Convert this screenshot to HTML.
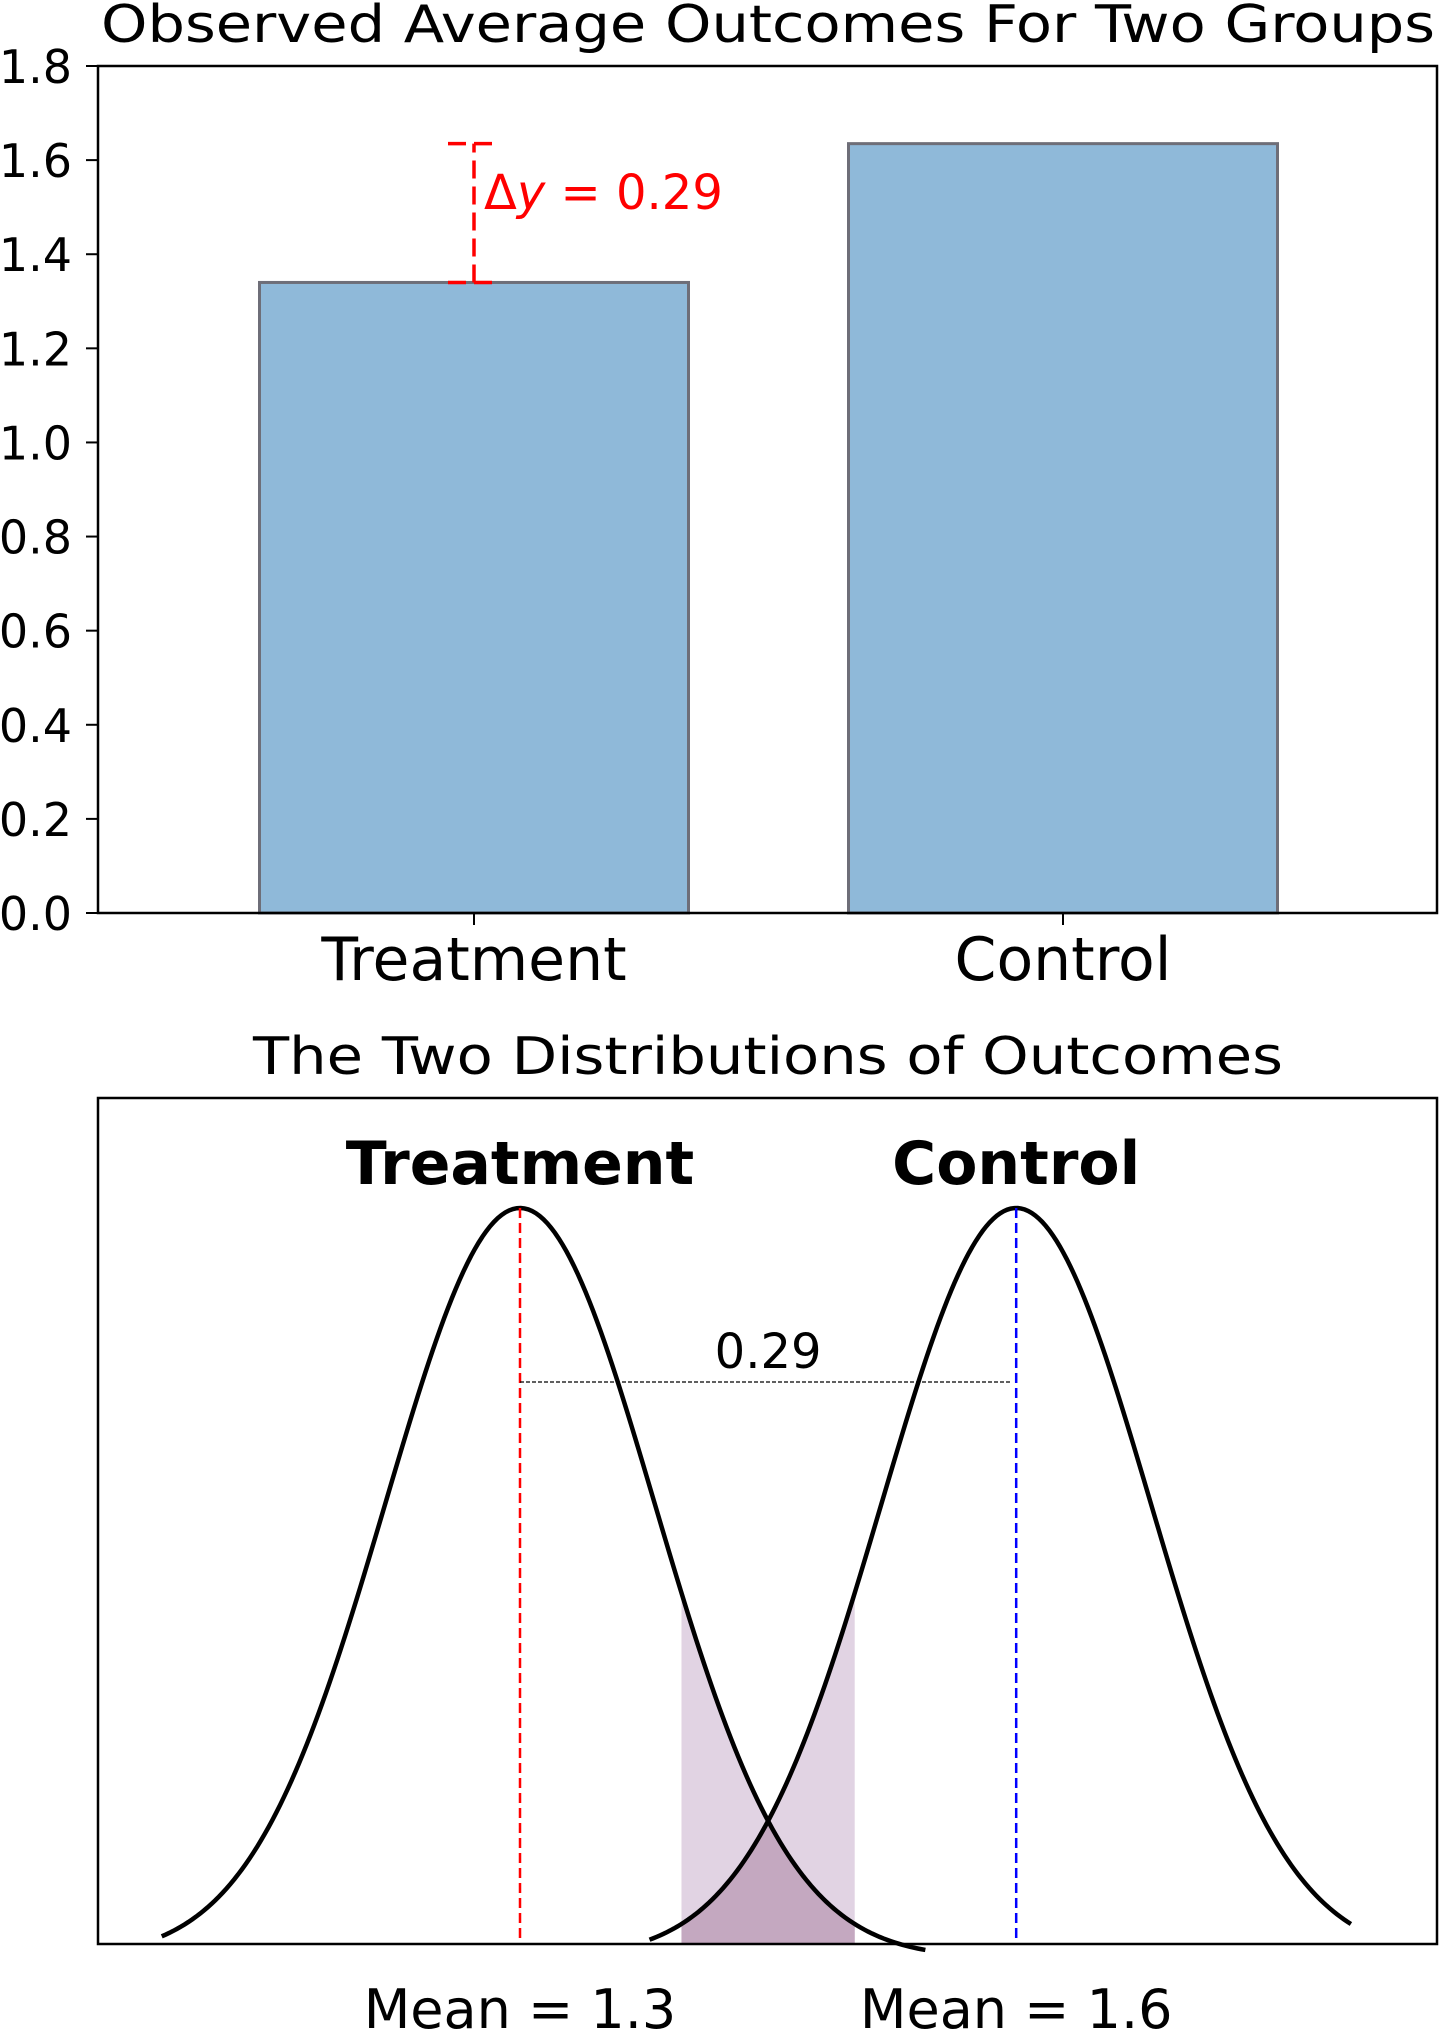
<!DOCTYPE html>
<html><head><meta charset="utf-8"><style>
html,body{margin:0;padding:0;background:#fff;}
svg{display:block;font-family:"DejaVu Sans","Liberation Sans",sans-serif;}
</style></head><body>
<svg id="chart" width="1440" height="2030" viewBox="0 0 1440 2030" xmlns="http://www.w3.org/2000/svg">
<text x="768" y="42" font-size="52" text-anchor="middle" textLength="1334" lengthAdjust="spacingAndGlyphs">Observed Average Outcomes For Two Groups</text>
<g id="topchart"></g>
<text x="768" y="1074" font-size="52" text-anchor="middle" textLength="1030" lengthAdjust="spacingAndGlyphs">The Two Distributions of Outcomes</text>
<g id="botchart"></g>
</svg>
<script>
const categories = ["Treatment", "Control"];
const barValues = [1.34, 1.635];
const yTicks = [0, 0.2, 0.4, 0.6, 0.8, 1.0, 1.2, 1.4, 1.6, 1.8];
const yTickLabels = ["0.0","0.2","0.4","0.6","0.8","1.0","1.2","1.4","1.6","1.8"];
const deltaLabel = "0.29";
const means = [1.34, 1.635];
const sigmas = [0.08, 0.08];
const curveStart = [1.127, 1.417];
const curveEnd = [1.581, 1.834];
const shadeRange = [1.436, 1.539];
const meanLabels = ["Mean = 1.3", "Mean = 1.6"];

const NS = "http://www.w3.org/2000/svg";
function mk(parent, tag, attrs, text){
  const e = document.createElementNS(NS, tag);
  for (const k in attrs) e.setAttribute(k, attrs[k]);
  if (text !== undefined) e.textContent = text;
  parent.appendChild(e);
  return e;
}
// ---- top chart ----
const topG = document.getElementById('topchart');
const L = 98, R = 1437, T = 66, B = 913;
const yS = v => B - (v / 1.8) * (B - T);
const xCenters = [474, 1063];
const barW = 429;
yTicks.forEach((t, i) => {
  const y = yS(t);
  const tk = mk(topG, 'line', {x1: L - 12, x2: L, y1: y, y2: y, stroke: '#000', 'stroke-width': 2});
  
  
  const lb = mk(topG, 'text', {x: L - 26, y: y + 17, 'font-size': 46, 'text-anchor': 'end'}, yTickLabels[i]);
  
  
});
barValues.forEach((v, i) => {
  const r = mk(topG, 'rect', {x: xCenters[i] - barW / 2, y: yS(v), width: barW, height: B - yS(v), fill: '#8fb9d9', stroke: '#6e6e78', 'stroke-width': 3});
  
  
  const tk = mk(topG, 'line', {x1: xCenters[i], x2: xCenters[i], y1: B, y2: B + 12, stroke: '#000', 'stroke-width': 2});
  
  
  const lb = mk(topG, 'text', {x: xCenters[i], y: 980, 'font-size': 60, 'text-anchor': 'middle'}, categories[i]);
  
  
});
const frame = mk(topG, 'rect', {x: L, y: T, width: R - L, height: B - T, fill: 'none', stroke: '#000', 'stroke-width': 2.5});


const dx = xCenters[0];
const y1 = yS(barValues[0]), y2 = yS(barValues[1]);
const dl = mk(topG, 'line', {x1: dx, x2: dx, y1: y1, y2: y2, stroke: '#ff0000', 'stroke-width': 3.5, 'stroke-dasharray': '18 8'});


[y1, y2].forEach(y => {
  const c = mk(topG, 'line', {x1: dx - 26, x2: dx + 22, y1: y, y2: y, stroke: '#ff0000', 'stroke-width': 3.5, 'stroke-dasharray': '18 8'});
  
  
});
const dt = mk(topG, 'text', {x: dx + 10, y: (y1 + y2) / 2 - 4, 'font-size': 48, fill: '#ff0000'});


mk(dt, 'tspan', {}, 'Δ');
mk(dt, 'tspan', {'font-style': 'italic'}, 'y');
mk(dt, 'tspan', {}, ' = ' + deltaLabel);

// ---- bottom chart ----
const botG = document.getElementById('botchart');
const BL = 98, BR = 1437, BT = 1098, BB = 1944;
const xD = v => 520 + (v - 1.34) * 1682;
const peakPdf = 1 / (0.08 * Math.sqrt(2 * Math.PI));
const yD = p => 1958 - p * 750 / peakPdf;
const pdf = (v, m, s) => Math.exp(-((v - m) ** 2) / (2 * s * s)) / (s * Math.sqrt(2 * Math.PI));
function pts(a, b, f){ const out = []; for (let k = 0; k <= 200; k++){ const v = a + (b - a) * k / 200; out.push([xD(v), f(v)]); } return out; }
const clip = mk(botG, 'clipPath', {id: 'bclip'});
mk(clip, 'rect', {x: BL, y: BT, width: BR - BL, height: BB - BT});
const fillG = mk(botG, 'g', {'clip-path': 'url(#bclip)'});


function area(f, col, name){
  const p = pts(shadeRange[0], shadeRange[1], f);
  const d = 'M' + p[0][0] + ',' + BB + ' ' + p.map(q => 'L' + q[0] + ',' + q[1]).join(' ') + ' L' + p[p.length - 1][0] + ',' + BB + 'Z';
  const e = mk(fillG, 'path', {d: d, fill: col});
  
  
}
area(v => yD(Math.max(pdf(v, means[0], sigmas[0]), pdf(v, means[1], sigmas[1]))), '#e1d3e3', 'shade-union');
area(v => yD(Math.min(pdf(v, means[0], sigmas[0]), pdf(v, means[1], sigmas[1]))), '#c4a8c0', 'shade-overlap');
const lineCols = ['#ff0000', '#0000ff'];
means.forEach((m, i) => {
  const p = pts(curveStart[i], curveEnd[i], v => yD(pdf(v, m, sigmas[i])));
  const c = mk(botG, 'path', {d: 'M' + p.map(q => q[0] + ',' + q[1]).join(' L'), fill: 'none', stroke: '#000', 'stroke-width': 4.5});
  
  
  const ml = mk(botG, 'line', {x1: xD(m), x2: xD(m), y1: yD(pdf(m, m, sigmas[i])), y2: BB, stroke: lineCols[i], 'stroke-width': 2.5, 'stroke-dasharray': '10 5'});
  
  
  const nl = mk(botG, 'text', {x: xD(m), y: 1184, 'font-size': 60, 'font-weight': 'bold', 'text-anchor': 'middle'}, categories[i]);
  
  
  const mlb = mk(botG, 'text', {x: xD(m), y: 2028, 'font-size': 54, 'text-anchor': 'middle'}, meanLabels[i]);
  
  
});
const gy = 1382;
const gl = mk(botG, 'line', {x1: xD(means[0]), x2: xD(means[1]) - 6, y1: gy, y2: gy, stroke: '#000', 'stroke-width': 1.3, 'stroke-dasharray': '4 2'});


const gt = mk(botG, 'text', {x: (xD(means[0]) + xD(means[1])) / 2, y: 1368, 'font-size': 48, 'text-anchor': 'middle'}, deltaLabel);


const bf = mk(botG, 'rect', {x: BL, y: BT, width: BR - BL, height: BB - BT, fill: 'none', stroke: '#000', 'stroke-width': 2.5});


</script>
</body></html>
